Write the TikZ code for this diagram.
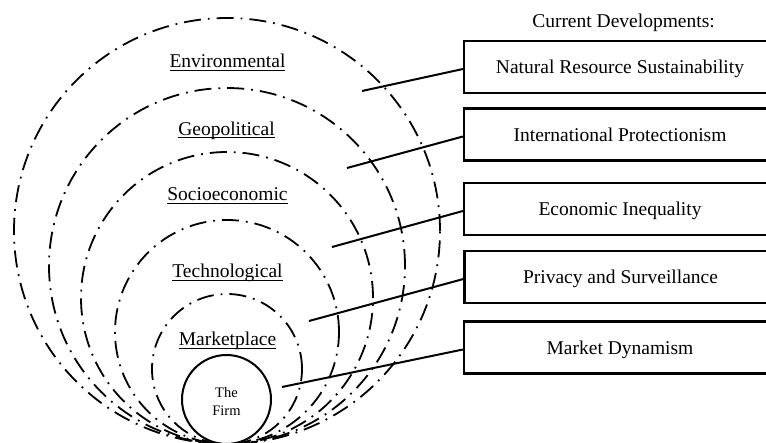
\documentclass[tikz,border=0pt]{standalone}
\usepackage{fontspec}
\setmainfont{Liberation Serif}
\newcommand\ulword[1]{\setbox0\hbox{#1}\rlap{\rule[-3.4pt]{\wd0}{1.1pt}}\box0}
\tikzset{
  ring/.style={circle, draw, line width=1.8pt, dash pattern=on 17pt off 7pt on 1.8pt off 7pt, inner sep=0pt},
  firmring/.style={circle, draw, line width=2pt, inner sep=0pt, minimum size=89pt},
  layer/.style={font=\fontsize{19.5}{23}\selectfont, anchor=base, inner sep=0pt},
  devbox/.style={draw, line width=2.2pt, minimum width=312pt, minimum height=52pt, text height=13.2pt, text depth=0pt, inner sep=0pt, font=\fontsize{19.5}{23}\selectfont},
  conn/.style={line width=2pt},
}
\begin{document}
\begin{tikzpicture}[x=1pt,y=-1pt]
\useasboundingbox (0,0) rectangle (766,442);
% nested environments
\node[ring, minimum size=426pt] (env) at (227,231) {};
\node[ring, minimum size=356pt] (geo) at (227,266) {};
\node[ring, minimum size=292pt] (soc) at (227,298) {};
\node[ring, minimum size=224pt] (tech) at (227,332) {};
\node[ring, minimum size=150pt] (mkt) at (227,369) {};
\node[firmring] (firm) at (226.5,399.5) {};
\node[font=\fontsize{14.5}{17}\selectfont, anchor=base, inner sep=0pt] (the) at (226.5,397) {The};
\node[font=\fontsize{14.5}{17}\selectfont, anchor=base, inner sep=0pt] (firmtxt) at (226.5,415) {Firm};
% layer labels
\node[layer] (lenv) at (227.5,67.5) {\ulword{Environmental}};
\node[layer] (lgeo) at (226.5,135) {\ulword{Geopolitical}};
\node[layer] (lsoc) at (227.5,200.5) {\ulword{Socioeconomic}};
\node[layer] (ltech) at (227.5,277.5) {\ulword{Technological}};
\node[layer] (lmkt) at (227.5,345.5) {\ulword{Marketplace}};
% heading
\node[layer] (head) at (623.5,27) {Current Developments:};
% boxes
\node[devbox] (b1) at (620,67) {Natural Resource Sustainability};
\node[devbox] (b2) at (620,134.5) {International Protectionism};
\node[devbox] (b3) at (620,209) {Economic Inequality};
\node[devbox] (b4) at (620.5,277) {Privacy and Surveillance};
\node[devbox] (b5) at (620,347.5) {Market Dynamism};
% connector ends
\coordinate (e1) at (362,91);
\coordinate (e2) at (347,168);
\coordinate (e3) at (332,247);
\coordinate (e4) at (309,321);
\coordinate (e5) at (282,387);
\draw[conn] ([yshift=-2pt]b1.west) -- (e1);
\draw[conn] ([yshift=-2pt]b2.west) -- (e2);
\draw[conn] ([yshift=-2pt]b3.west) -- (e3);
\draw[conn] ([yshift=-2pt]b4.west) -- (e4);
\draw[conn] ([yshift=-2pt]b5.west) -- (e5);
\end{tikzpicture}
\end{document}
